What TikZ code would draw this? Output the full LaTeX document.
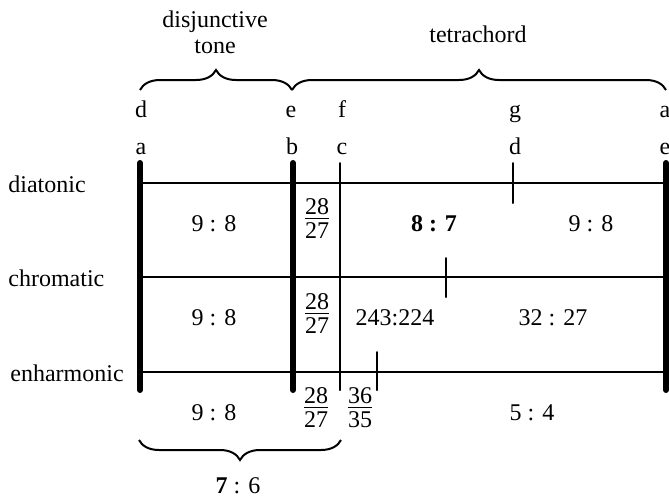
\documentclass[tikz,border=0pt]{standalone}
\usepackage{fontspec}
\setmainfont{Liberation Serif}
\usepackage{tkz-euclide}
\usetikzlibrary{calc,decorations.pathreplacing}

\tikzset{
  lbl/.style={inner sep=0pt,anchor=base},
  ratio/.style={inner sep=0pt,anchor=base},
  fracnode/.style={inner sep=0pt,font=\fontsize{12}{14}\selectfont},
  brc/.style={decorate,decoration={brace,amplitude=10pt},line width=1pt}
}
\newcommand{\ratiofrac}[2]{\setlength{\arrayrulewidth}{0.6pt}%
  \begin{tabular}{@{}c@{}}#1\\[-2.5pt]\hline #2\end{tabular}}

\begin{document}
\begin{tikzpicture}[x=0.5pt,y=-0.5pt,font=\fontsize{12}{14}\selectfont]
\useasboundingbox (0,0) rectangle (669,499);
\clip (0,0) rectangle (669,499);
\tkzSetUpLine[line width=1pt,color=black]

\tkzDefPoints{140/163/Ta,140/390/Ba,293/163/Tb,293/390/Bb,340/163/Tc,340/390/Bc,666/163/Te,666/390/Be}
\tkzDefPoints{140/183/Dl,666/183/Dr,140/277/Cl,666/277/Cr,140/372/El,666/372/Er}
\tkzDefPoints{513/163/Dt1,513/203/Dt2,446/258/Ct1,446/297/Ct2,377/352/Et1,377/390/Et2}
\tkzDefPoints{140/90/Q1,292/90/Q2,666/90/Q3,341/440/R1,139/440/R2}

\tkzDrawSegments(Dl,Dr Cl,Cr El,Er)
\tkzDrawSegments(Tc,Bc Dt1,Dt2 Ct1,Ct2 Et1,Et2)
\tkzDrawSegments[line width=3pt](Ta,Ba Tb,Bb Te,Be)

\draw[brc] (Q1) -- (Q2);
\draw[brc] (Q2) -- (Q3);
\draw[brc] (R1) -- (R2);

\node[lbl] (disj) at (215,27) {disjunctive};
\node[lbl] (tone) at (215,53) {tone};
\node[lbl] (tetra) at (478,42) {tetrachord};

\node[lbl] (n1d) at (141,117) {d};
\node[lbl] (n1e) at (291,117) {e};
\node[lbl] (n1f) at (342,117) {f};
\node[lbl] (n1g) at (515,117) {g};
\node[lbl] (n1a) at (665,117) {a};
\node[lbl] (n2a) at (141,154) {a};
\node[lbl] (n2b) at (292,154) {b};
\node[lbl] (n2c) at (342,154) {c};
\node[lbl] (n2d) at (515,154) {d};
\node[lbl] (n2e) at (665,154) {e};

\node[inner sep=0pt,anchor=base west] (dia) at (8,192) {diatonic};
\node[inner sep=0pt,anchor=base west] (chr) at (8,286) {chromatic};
\node[inner sep=0pt,anchor=base west] (enh) at (10,381) {enharmonic};

\node[ratio] (d98) at (214,231) {9 : 8};
\node[fracnode] (dfr) at (317,221) {\ratiofrac{28}{27}};
\node[ratio] (d87) at (434,231) {\textbf{8 : 7}};
\node[ratio] (d98b) at (591,231) {9 : 8};

\node[ratio] (c98) at (214,325) {9 : 8};
\node[fracnode] (cfr) at (317,316) {\ratiofrac{28}{27}};
\node[ratio] (c243) at (395,325) {243:224};
\node[ratio] (c3227) at (553,325) {32 : 27};

\node[ratio] (e98) at (214,420) {9 : 8};
\node[fracnode] (efr) at (316,410) {\ratiofrac{28}{27}};
\node[fracnode] (efr2) at (360,410) {\ratiofrac{36}{35}};
\node[ratio] (e54) at (532,420) {5 : 4};

\node[ratio] (r76) at (238,493) {\textbf{7} : 6};

\end{tikzpicture}
\end{document}
